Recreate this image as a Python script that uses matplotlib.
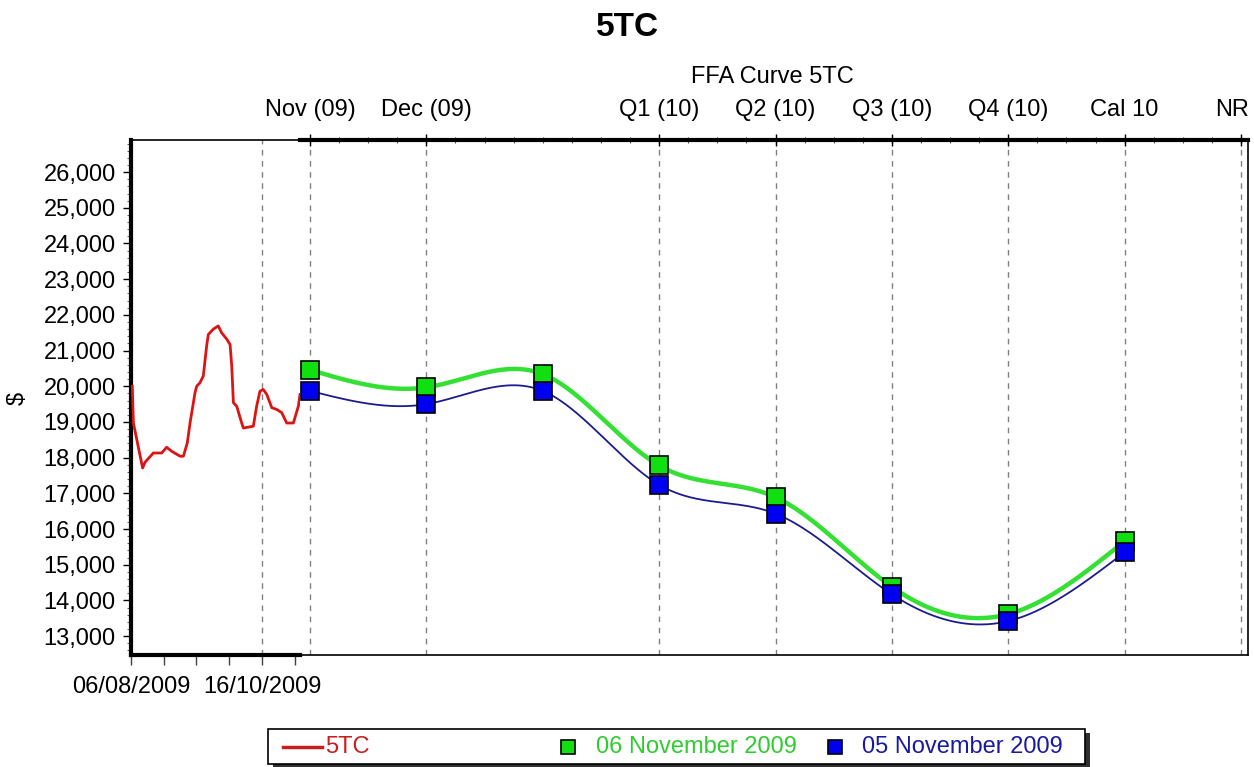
import numpy as np
import matplotlib
matplotlib.use("Agg")
import matplotlib.pyplot as plt
import matplotlib.transforms as mtransforms
from matplotlib.lines import Line2D
from matplotlib.patches import Rectangle
from matplotlib.ticker import FixedLocator, FuncFormatter

plt.rcParams['font.family'] = ['Liberation Sans', 'DejaVu Sans']

# ---------------- data ----------------
title = "5TC"
curve_title = "FFA Curve 5TC"

# historical 5TC index (days after 06/08/2009)
hist_days = [0.7, 1.3, 6.3, 7.6, 12.1, 16.6, 19.3, 22.0, 26.6, 28.4, 30.5, 32.0,
             34.7, 35.6, 37.4, 39.2, 41.0, 41.9, 44.6, 47.3, 49.1, 51.9, 53.7,
             54.6, 55.5, 57.3, 60.0, 60.9, 66.3, 68.1, 69.9, 71.7, 73.6, 76.3,
             79.0, 81.7, 84.4, 88.0, 90.7, 91.6]
hist_values = [20000, 18970, 17710, 17870, 18130, 18130, 18290, 18180, 18040,
               18040, 18410, 18970, 19820, 20000, 20100, 20290, 21130, 21450,
               21600, 21690, 21500, 21320, 21170, 20570, 19540, 19440, 18970,
               18830, 18880, 19440, 19860, 19910, 19770, 19400, 19350, 19260,
               18970, 18970, 19440, 19770]
hist_tick_days = [0, 17.75, 35.5, 53.25, 71, 88.75]
hist_tick_labels = ["06/08/2009", "", "", "", "16/10/2009", ""]

# forward curve
fwd_labels = ["Nov (09)", "Dec (09)", "", "Q1 (10)", "Q2 (10)", "Q3 (10)",
              "Q4 (10)", "Cal 10", "NR"]
curve_06nov = [20460, 19970, 20340, 17780, 16890, 14380, 13615, 15660]
curve_05nov = [19870, 19500, 19870, 17240, 16430, 14170, 13420, 15350]

y_ticks = list(range(13000, 26001, 1000))

series_names = ["5TC", "06 November 2009", "05 November 2009"]
red = "#dd1414"
green_line = "#33e033"
green_mark = "#10e010"
blue_line = "#1c1c8c"
blue_mark = "#0000f0"


def natural_spline(x, y, xs):
    x = np.asarray(x, float)
    y = np.asarray(y, float)
    n = len(x)
    h = np.diff(x)
    A = np.zeros((n, n))
    r = np.zeros(n)
    A[0, 0] = A[-1, -1] = 1
    for i in range(1, n - 1):
        A[i, i - 1] = h[i - 1]
        A[i, i] = 2 * (h[i - 1] + h[i])
        A[i, i + 1] = h[i]
        r[i] = 3 * ((y[i + 1] - y[i]) / h[i] - (y[i] - y[i - 1]) / h[i - 1])
    c = np.linalg.solve(A, r)
    b = (y[1:] - y[:-1]) / h - h * (2 * c[:-1] + c[1:]) / 3
    d = (c[1:] - c[:-1]) / (3 * h)
    idx = np.clip(np.searchsorted(x, xs) - 1, 0, n - 2)
    dx = xs - x[idx]
    return y[idx] + b[idx] * dx + c[idx] * dx ** 2 + d[idx] * dx ** 3


W, H = 1254, 767
fig = plt.figure(figsize=(W / 100, H / 100), dpi=100)
fig.patch.set_facecolor("white")

top_px, bot_px = 140, 655
left_px, split_px, right_px = 131, 300, 1248
fb = 1 - bot_px / H
fh = (bot_px - top_px) / H
ax_h = fig.add_axes([left_px / W, fb, (split_px - left_px) / W, fh])
ax_f = fig.add_axes([split_px / W, fb, (right_px - split_px) / W, fh])

ylim = (12470, 26900)
FS = 17

# ---------- historical axes ----------
ax_h.plot(hist_days, hist_values, color=red, lw=2.0, zorder=3)
ax_h.set_xlim(0, 91.6)
ax_h.set_ylim(*ylim)
ax_h.set_xticks(hist_tick_days)
ax_h.set_xticklabels(hist_tick_labels)
ax_h.axvline(hist_tick_days[4], color="#808080", lw=1.0, ls=(0, (4, 4)), zorder=1)
ax_h.set_yticks(y_ticks)
ax_h.yaxis.set_major_formatter(FuncFormatter(lambda v, p: f"{int(v):,}"))
ax_h.yaxis.set_minor_locator(FixedLocator(np.arange(12600, 26900, 200)))
ax_h.tick_params(axis="y", which="major", direction="out", length=6, width=1,
                 labelsize=FS, pad=5)
ax_h.tick_params(axis="y", which="minor", direction="out", length=3, width=0.8,
                 colors="#606060")
ax_h.tick_params(axis="x", which="major", direction="out", length=7, width=1,
                 labelsize=FS, pad=8, color="#404040")
ax_h.spines["left"].set_linewidth(3)
ax_h.spines["bottom"].set_linewidth(3)
ax_h.spines["top"].set_linewidth(1.2)
ax_h.spines["right"].set_visible(False)
ax_h.patch.set_alpha(0)

# ---------- forward axes ----------
pos = np.arange(len(curve_06nov))
xs = np.linspace(pos[0], pos[-1], 600)
ax_f.plot(xs, natural_spline(pos, curve_05nov, xs), color=blue_line, lw=1.3, zorder=2)
ax_f.plot(xs, natural_spline(pos, curve_06nov, xs), color=green_line, lw=3.2, zorder=3)
ax_f.plot(pos, curve_06nov, ls="none", marker="s", ms=12.5, mfc=green_mark,
          mec="black", mew=1.2, zorder=4)
ax_f.plot(pos, curve_05nov, ls="none", marker="s", ms=12.5, mfc=blue_mark,
          mec="black", mew=1.2, zorder=5)
ax_f.set_xlim(-0.086, 8.06)
ax_f.set_ylim(*ylim)
major_pos = [i for i, lab in enumerate(fwd_labels) if lab]
ax_f.xaxis.tick_top()
ax_f.set_xticks(major_pos)
ax_f.set_xticklabels([fwd_labels[i] for i in major_pos])
ax_f.xaxis.set_minor_locator(FixedLocator(np.arange(0, 8.01, 0.25)))
ax_f.tick_params(axis="x", which="major", direction="inout", length=9, width=1,
                 labelsize=FS, pad=9, top=True, bottom=False)
ax_f.tick_params(axis="x", which="minor", direction="inout", length=5, width=0.8,
                 top=True, bottom=False, color="#505050")
ax_f.tick_params(axis="y", left=False, labelleft=False)
ax_f.xaxis.grid(True, which="major", color="#808080", lw=1.0, ls=(0, (4, 4)))
ax_f.set_axisbelow(True)
ax_f.spines["top"].set_linewidth(3)
ax_f.spines["left"].set_visible(False)
ax_f.spines["bottom"].set_linewidth(1.2)
ax_f.spines["right"].set_linewidth(1.2)
ax_f.patch.set_alpha(0)

# keep the last top label ("NR") inside the picture, as in the reference
last_lab = ax_f.get_xticklabels()[-1]
last_lab.set_transform(last_lab.get_transform() +
                       mtransforms.ScaledTranslation(-9 / 100, 0, fig.dpi_scale_trans))

# ---------- texts ----------
fig.text(0.5, 1 - 27 / H, title, ha="center", va="center", fontsize=24,
         fontweight="bold")
fig.text(772 / W, 1 - 77 / H, curve_title, ha="center", va="center", fontsize=FS)
fig.text(18 / W, 1 - 398 / H, "$", ha="center", va="center", fontsize=FS,
         rotation=90)

# ---------- legend ----------
lx0, lx1, ly0, ly1 = 268, 1085, 729, 764
fig.patches.append(Rectangle(((lx0 + 5) / W, 1 - (ly1 + 4) / H), (lx1 - lx0) / W,
                             (ly1 - ly0) / H, transform=fig.transFigure,
                             facecolor="#303030", edgecolor="none", zorder=0))
fig.patches.append(Rectangle((lx0 / W, 1 - ly1 / H), (lx1 - lx0) / W, (ly1 - ly0) / H,
                             transform=fig.transFigure, facecolor="white",
                             edgecolor="black", lw=1.2, zorder=1))
ly = 1 - 747 / H
fig.lines.append(Line2D([283 / W, 322 / W], [ly, ly], transform=fig.transFigure,
                        color="#c81e1e", lw=2.5, zorder=2))
fig.text(325 / W, ly, series_names[0], ha="left", va="center", fontsize=FS,
         color="#c81e1e", zorder=2)
fig.lines.append(Line2D([568 / W], [ly], transform=fig.transFigure, ls="none",
                        marker="s", ms=9.5, mfc=green_mark, mec="black", mew=1.2,
                        zorder=2))
fig.text(596 / W, ly, series_names[1], ha="left", va="center", fontsize=FS,
         color="#2ecc2e", zorder=2)
fig.lines.append(Line2D([835 / W], [ly], transform=fig.transFigure, ls="none",
                        marker="s", ms=9.5, mfc=blue_mark, mec="black", mew=1.2,
                        zorder=2))
fig.text(862 / W, ly, series_names[2], ha="left", va="center", fontsize=FS,
         color="#1a1aa0", zorder=2)

fig.savefig("out.png", dpi=100, facecolor="white")
